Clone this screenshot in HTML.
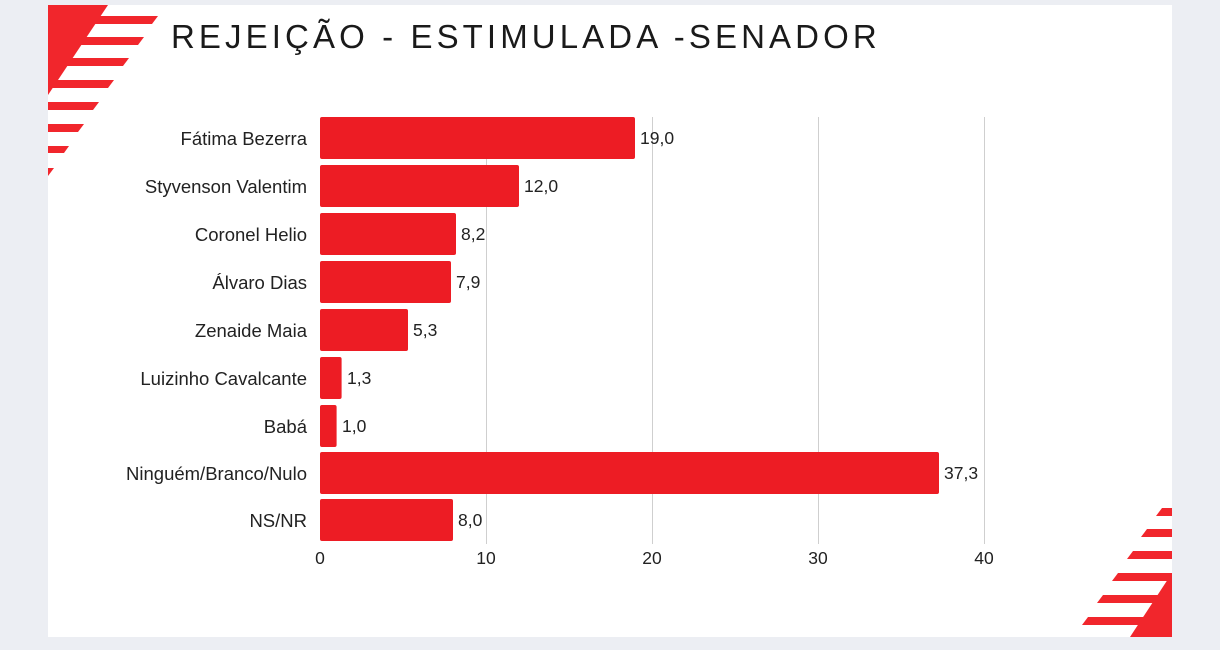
<!DOCTYPE html>
<html><head><meta charset="utf-8"><style>
body{margin:0;width:1220px;height:650px;background:#eceef3;overflow:hidden;font-family:"Liberation Sans",sans-serif}
</style></head><body>
<svg width="1220" height="650" viewBox="0 0 1220 650" style="position:absolute;left:0;top:0">
<rect x="48" y="5" width="1124" height="632" fill="#fff"/>
<g fill="#f1262c">
<polygon points="48,5 108,5 48,95"/>
<polygon points="48,16 158,16 152,24 48,24"/>
<polygon points="48,37 144,37 138,45 48,45"/>
<polygon points="48,58 129,58 123,66 48,66"/>
<polygon points="48,80 114,80 108,88 48,88"/>
<polygon points="48,102 99,102 93,110 48,110"/>
<polygon points="48,124 84,124 78,132 48,132"/>
<polygon points="48,146 69,146 64,153 48,153"/>
<polygon points="48,168 54,168 48,176"/>
<polygon points="1172,573 1172,637 1130,637"/>
<polygon points="1162,508 1172,508 1172,516 1156,516"/>
<polygon points="1147,529 1172,529 1172,537 1141,537"/>
<polygon points="1133,551 1172,551 1172,559 1127,559"/>
<polygon points="1118,573 1172,573 1172,581 1112,581"/>
<polygon points="1103,595 1172,595 1172,603 1097,603"/>
<polygon points="1088,617 1172,617 1172,625 1082,625"/>
</g>
<text x="171" y="48" font-size="33" letter-spacing="4.1" fill="#1a1a1a">REJEIÇÃO - ESTIMULADA -SENADOR</text>
<g stroke="#cfcfcf" stroke-width="1">
<line x1="486.5" y1="117" x2="486.5" y2="544"/>
<line x1="652.5" y1="117" x2="652.5" y2="544"/>
<line x1="818.5" y1="117" x2="818.5" y2="544"/>
<line x1="984.5" y1="117" x2="984.5" y2="544"/>
</g>
<g fill="#ed1c24">
<rect x="320" y="117" width="315" height="42" rx="2"/>
<rect x="320" y="165" width="199" height="42" rx="2"/>
<rect x="320" y="213" width="136" height="42" rx="2"/>
<rect x="320" y="261" width="131" height="42" rx="2"/>
<rect x="320" y="309" width="88" height="42" rx="2"/>
<rect x="320" y="357" width="21.6" height="42" rx="2"/>
<rect x="320" y="405" width="16.6" height="42" rx="2"/>
<rect x="320" y="452" width="619" height="42" rx="2"/>
<rect x="320" y="499" width="133" height="42" rx="2"/>
</g>
<g font-size="18.5" fill="#222" text-anchor="end">
<text x="307" y="145">Fátima Bezerra</text>
<text x="307" y="193">Styvenson Valentim</text>
<text x="307" y="241">Coronel Helio</text>
<text x="307" y="289">Álvaro Dias</text>
<text x="307" y="337">Zenaide Maia</text>
<text x="307" y="385">Luizinho Cavalcante</text>
<text x="307" y="433">Babá</text>
<text x="307" y="480">Ninguém/Branco/Nulo</text>
<text x="307" y="527">NS/NR</text>
</g>
<g font-size="17.5" fill="#222">
<text x="640" y="144">19,0</text>
<text x="524" y="192">12,0</text>
<text x="461" y="240">8,2</text>
<text x="456" y="288">7,9</text>
<text x="413" y="336">5,3</text>
<text x="347" y="384">1,3</text>
<text x="342" y="432">1,0</text>
<text x="944" y="479">37,3</text>
<text x="458" y="526">8,0</text>
</g>
<g font-size="17.5" fill="#222" text-anchor="middle">
<text x="320" y="564">0</text>
<text x="486" y="564">10</text>
<text x="652" y="564">20</text>
<text x="818" y="564">30</text>
<text x="984" y="564">40</text>
</g>
</svg>
</body></html>
